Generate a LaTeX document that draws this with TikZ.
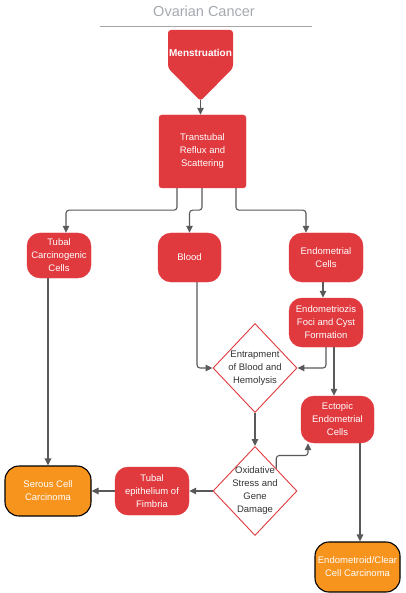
\documentclass[tikz,border=0pt]{standalone}
\usepackage{fontspec}
\setmainfont{Liberation Sans}
\usetikzlibrary{shapes.geometric,arrows.meta,calc}
\definecolor{boxred}{HTML}{E0393E}
\definecolor{boxorange}{HTML}{F7941E}
\definecolor{linegray}{HTML}{595959}
\definecolor{titlegray}{HTML}{A4A9AF}
\definecolor{darktext}{HTML}{333333}
\begin{document}
\begin{tikzpicture}[x=1pt,y=-1pt,
  every node/.style={font=\fontsize{9.5}{13}\selectfont, align=center, inner sep=1pt},
  redbox/.style={rectangle, fill=boxred, draw=boxred, text=white, rounded corners=13pt},
  orangebox/.style={rectangle, fill=boxorange, draw=black, line width=1.1pt, text=white, rounded corners=14pt},
  decision/.style={diamond, draw=boxred, fill=white, line width=0.9pt, inner sep=0pt, minimum width=84pt, minimum height=89pt},
  diamtext/.style={text=darktext},
  arr/.style={draw=linegray, line width=1.1pt, -{Triangle[length=7pt,width=6.5pt]}, rounded corners=3pt}]
\useasboundingbox (0,0) rectangle (406,593);

% title
\node[font=\fontsize{14.5}{16}\selectfont, text=titlegray] (title) at (204,11) {Ovarian Cancer};
\draw[draw=gray!70, line width=0.9pt] (100,26) -- (312,26);

% Menstruation pentagon
\fill[boxred, rounded corners=3pt] (168,30) -- (233,30) -- (233,68) -- (200.5,101) -- (168,68) -- cycle;
\node[font=\bfseries\fontsize{10}{12}\selectfont, text=white] (men) at (200.5,53) {Menstruation};
\coordinate (mentip) at (200.5,100);

% boxes
\node[redbox, rounded corners=3pt, minimum width=87pt, minimum height=73pt] (trans) at (202.5,151.5) {Transtubal\\Reflux and\\Scattering};
\node[redbox, minimum width=64pt, minimum height=45pt] (tcc) at (59,255.5) {Tubal\\Carcinogenic\\Cells};
\node[redbox, minimum width=63pt, minimum height=49pt] (blood) at (189.5,257.5) {Blood};
\node[redbox, minimum width=74pt, minimum height=49pt] (endo) at (326,257.5) {Endometrial\\Cells};
\node[redbox, minimum width=74pt, minimum height=49pt] (foci) at (326,322.5) {Endometriozis\\Foci and Cyst\\Formation};
\node[redbox, minimum width=73pt, minimum height=47pt] (ectopic) at (337.5,419.5) {Ectopic\\Endometrial\\Cells};
\node[redbox, minimum width=74pt, minimum height=48pt] (tef) at (152,491) {Tubal\\epithelium of\\Fimbria};
\node[orangebox, minimum width=86pt, minimum height=50pt] (serous) at (48,491) {Serous Cell\\Carcinoma};
\node[orangebox, minimum width=85pt, minimum height=50pt] (endclear) at (357.5,567) {Endometroid/Clear\\Cell Carcinoma};

% diamonds
\node[decision, label={[diamtext]center:Entrapment\\of Blood and\\Hemolysis}] (ent) at (255,368) {};
\node[decision, label={[diamtext]center:Oxidative\\Stress and\\Gene\\Damage}] (oxi) at (255,491) {};

% connectors
\draw[arr] (mentip) -- (mentip |- trans.north);
\draw[arr] ($(trans.south)+(-25.5,0)$) -- ++(0,22) -| ($(tcc.north)+(7,0)$);
\draw[arr] ($(trans.south)+(-0.5,0)$) -- ++(0,22) -| (blood.north);
\draw[arr] ($(trans.south)+(33.5,0)$) -- ++(0,22) -| ($(endo.north)+(-20,0)$);
\draw[arr] ($(endo.south)+(-3,0)$) -- ($(foci.north)+(-3,0)$);
\draw[arr] ($(blood.south)+(7.5,0)$) |- (ent.west);
\draw[arr] (foci.south) |- (ent.east);
\draw[arr] ($(foci.south)+(8,0)$) -- ($(ectopic.north)+(-3.5,0)$);
\draw[arr] (ent.south) -- (oxi.north);
\draw[arr] (oxi.north east) -- ++(0,-13) -| ($(ectopic.south)+(-29.5,0)$);
\draw[arr] (oxi.west) -- (tef.east);
\draw[arr] (tef.west) -- (serous.east);
\draw[arr] (serous.north |- tcc.south) -- (serous.north);
\draw[arr] ($(ectopic.south)+(22.5,0)$) -- ($(endclear.north)+(2.5,0)$);
\end{tikzpicture}
\end{document}
